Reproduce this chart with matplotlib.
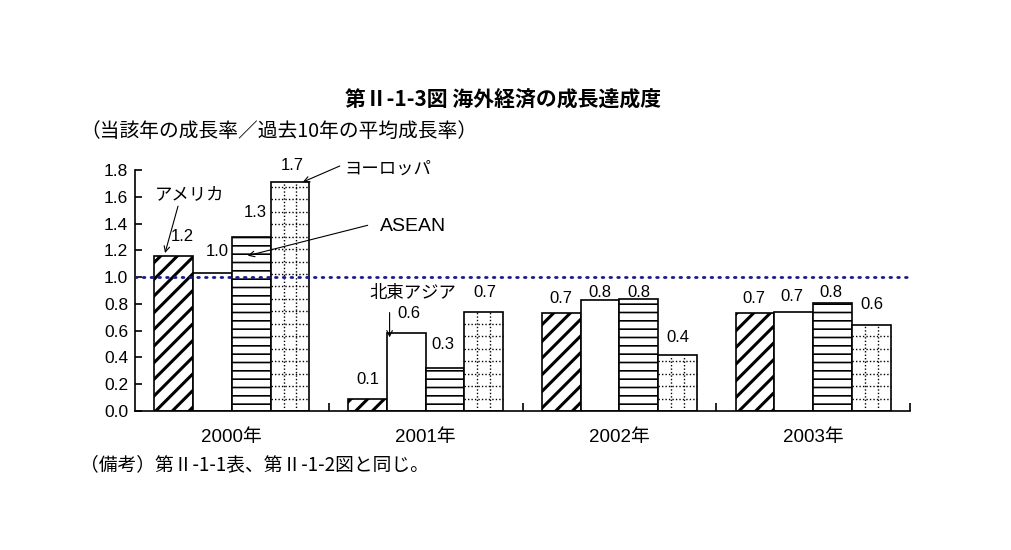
import numpy as np
import matplotlib
matplotlib.use("Agg")
import matplotlib.pyplot as plt
from matplotlib.collections import LineCollection

# ---- data ----
years = ["2000年", "2001年", "2002年", "2003年"]
regions = ["アメリカ", "北東アジア", "ASEAN", "ヨーロッパ"]
america = [1.16, 0.09, 0.73, 0.73]
ne_asia = [1.03, 0.58, 0.83, 0.74]
asean = [1.30, 0.32, 0.84, 0.81]
europe = [1.71, 0.74, 0.42, 0.64]
yticks = [0.0, 0.2, 0.4, 0.6, 0.8, 1.0, 1.2, 1.4, 1.6, 1.8]
ref_level = 1.0

title = "第Ⅱ-1-3図 海外経済の成長達成度"
subtitle = "（当該年の成長率／過去10年の平均成長率）"
footnote = "（備考）第Ⅱ-1-1表、第Ⅱ-1-2図と同じ。"

# label vertical offsets (data units) above the bar tops
label_dy = [
    [0.147, 0.165, 0.184, 0.122],
    [0.145, 0.150, 0.175, 0.145],
    [0.110, 0.055, 0.045, 0.130],
    [0.110, 0.115, 0.075, 0.155],
]
label_dx = [
    [0.042, 0.023, 0.019, 0.014],
    [0.0, 0.012, -0.012, 0.004],
    [0.0, 0.0, 0.003, 0.0],
    [-0.004, -0.008, -0.007, 0.004],
]

JP = ["Noto Sans CJK JP"]
MIX = ["Liberation Sans", "Noto Sans CJK JP"]

fig = plt.figure(figsize=(10.11, 5.5), dpi=100)
ax = fig.add_axes([135 / 1011, 1 - 411 / 550, 775 / 1011, 241 / 550])

x = np.arange(len(years))
w = 0.2
offsets = [-0.3, -0.1, 0.1, 0.3]
series = [america, ne_asia, asean, europe]
hatches = ["//", None, "--", None]

bar_groups = []
for s, (vals, off, h) in enumerate(zip(series, offsets, hatches)):
    bars = ax.bar(x + off, vals, width=w, color="white", edgecolor="black",
                  linewidth=1.2, hatch=h, zorder=2)
    for b in bars:
        if h is not None and hasattr(b, "set_hatch_linewidth"):
            b.set_hatch_linewidth(2.2 if h == "//" else 1.2)
    bar_groups.append(bars)

# dotted grid inside Europe bars
for b, v in zip(bar_groups[3], europe):
    x0, bw = b.get_x(), b.get_width()
    segs = []
    for k in (1, 2):
        xx = x0 + bw * k / 3
        segs.append([(xx, 0), (xx, v)])
    yy = 0.093
    while yy < v:
        segs.append([(x0, yy), (x0 + bw, yy)])
        yy += 0.093
    lc = LineCollection(segs, colors="black", linewidths=1.0,
                        linestyles=(0, (1, 1.5)), zorder=2.5)
    lc.set_clip_path(b)
    ax.add_collection(lc)

# reference line
ax.axhline(ref_level, color="#1a1a8c", linewidth=2.0,
           linestyle=(0, (0.6, 2.2)), zorder=3, dash_capstyle="round")

# value labels
for s, vals in enumerate(series):
    for i, v in enumerate(vals):
        ax.text(x[i] + offsets[s] + label_dx[i][s], v + label_dy[i][s],
                f"{v:.1f}", ha="center", va="center", fontsize=12,
                family=MIX, zorder=4)

# annotations
arrow = dict(arrowstyle="->", color="black", lw=0.8, shrinkA=0, shrinkB=0)
ax.text(-0.216, 1.62, regions[0], ha="center", va="center", fontsize=12.5, family=JP)
ax.annotate("", xy=(x[0] + offsets[0] - 0.045, america[0] + 0.02),
            xytext=(-0.278, 1.53), arrowprops=arrow)
ax.text(0.582, 1.807, regions[3], ha="left", va="center", fontsize=12.5, family=JP)
ax.annotate("", xy=(x[0] + offsets[3] + 0.066, europe[0]),
            xytext=(0.557, 1.83), arrowprops=arrow)
ax.text(0.763, 1.38, regions[2], ha="left", va="center", fontsize=14, family=MIX)
ax.annotate("", xy=(x[0] + offsets[2] - 0.018, asean[0] - 0.14),
            xytext=(0.701, 1.387), arrowprops=arrow)
ax.text(0.711, 0.885, regions[1], ha="left", va="center", fontsize=12.5, family=JP)
ax.annotate("", xy=(x[1] + offsets[1] - 0.086, ne_asia[1] - 0.03),
            xytext=(x[1] + offsets[1] - 0.086, 0.735), arrowprops=arrow)

# axes styling
ax.set_xlim(-0.5, len(years) - 0.5)
ax.set_ylim(0, 1.8)
ax.set_yticks(yticks)
ax.set_yticklabels([f"{t:.1f}" for t in yticks], family=MIX, fontsize=12.5)
ax.set_xticks(x)
ax.set_xticklabels(years, family=MIX, fontsize=13.5)
ax.tick_params(axis="x", which="major", length=0, pad=13)
ax.set_xticks(np.arange(len(years)) + 0.5, minor=True)
ax.tick_params(axis="x", which="minor", direction="in", length=6, width=1.2)
ax.tick_params(axis="y", direction="in", length=5, width=1.2, pad=5)
for sp in ("top", "right"):
    ax.spines[sp].set_visible(False)
for sp in ("left", "bottom"):
    ax.spines[sp].set_linewidth(1.2)

fig.text(503 / 1011, 1 - 100 / 550, title, ha="center", va="center",
         fontsize=15, family=JP, weight="bold")
fig.text(80 / 1011, 1 - 131 / 550, subtitle, ha="left", va="center",
         fontsize=14.2, family=JP)
fig.text(80 / 1011, 1 - 465 / 550, footnote, ha="left", va="center",
         fontsize=13.5, family=JP)

fig.savefig("out.png", dpi=100)
